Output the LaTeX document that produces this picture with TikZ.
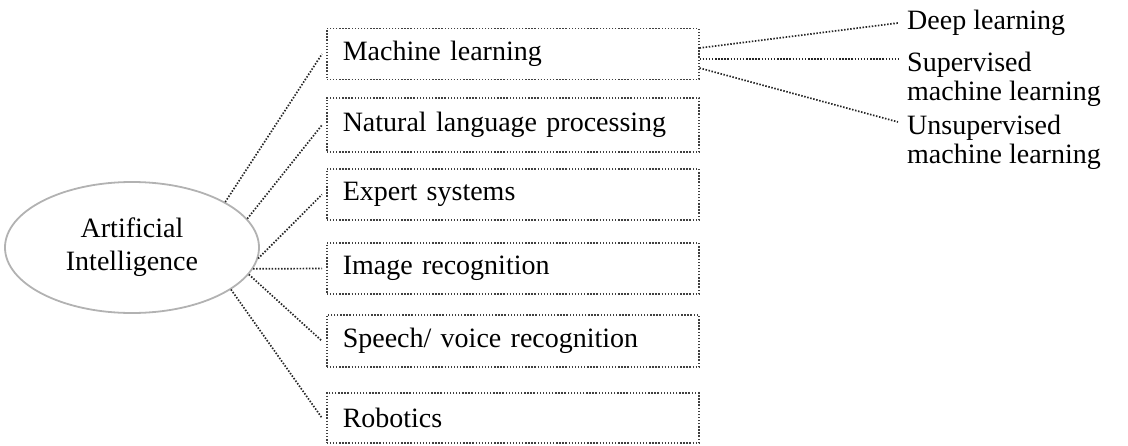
\documentclass[tikz,border=0pt]{standalone}
\usepackage{fontspec}
\setmainfont{Liberation Serif}
\usetikzlibrary{shapes.geometric,calc}
\begin{document}
\begin{tikzpicture}[x=1pt,y=-1pt,
  every node/.style={font=\fontsize{28}{33}\selectfont},
  dotline/.style={draw=black!85,line width=1.7pt,dash pattern=on 1.5pt off 1.6pt},
  topic/.style={draw=black!75,line width=1.5pt,dash pattern=on 1.4pt off 1.7pt,
    anchor=west,text width=340pt,align=left,inner xsep=16pt,inner ysep=0pt,
    minimum height=51pt},
  sub/.style={anchor=base west,align=left,inner sep=0pt,
    font=\fontsize{28}{28.5}\selectfont}]
\useasboundingbox (0,0) rectangle (1128,445);

% central concept
\node[ellipse,draw=black!30,line width=1.8pt,minimum width=254pt,minimum height=131pt,
  inner sep=0pt,align=center] (ai) at (132,247.5) {Artificial\\Intelligence};

% branches
\node[topic] (ml)  at (326,54)    {Machine learning};
\node[topic,minimum height=54pt] (nlp) at (326,125) {Natural language processing};
\node[topic] (es)  at (326,194.5) {Expert systems};
\node[topic] (ir)  at (326,268.5) {Image recognition};
\node[topic,minimum height=52pt] (sv)  at (326,341) {Speech/ voice recognition};
\node[topic,minimum height=50pt] (rb)  at (326,418) {Robotics};

% sub-fields of machine learning (base anchor sits on the last line)
\node[sub] (dl)  at (907,29)  {Deep learning};
\node[sub] (sup) at (907,100) {Supervised\\machine learning};
\node[sub] (uns) at (907,163) {Unsupervised\\machine learning};

% connectors
\draw[dotline] (ai.26)  -- ([xshift=-4pt]ml.west);
\draw[dotline] (ai.14)  -- ([xshift=-4pt]nlp.west);
\draw[dotline] (ai.-5)  -- ([xshift=-4pt]es.west);
\draw[dotline] (ai.-10) -- ([xshift=-4pt]ir.west);
\draw[dotline] (ai.-13) -- ([xshift=-4pt]sv.west);
\draw[dotline] (ai.-23) -- ([xshift=-4pt]rb.west);

\draw[dotline] ($(ml.east)+(0,-6)$) -- ($(dl.base west)+(-9,-6)$);
\draw[dotline] ($(ml.east)+(0,5)$)  -- ($(sup.base west)+(-9,-41)$);
\draw[dotline] ($(ml.east)+(0,14)$) -- ($(uns.base west)+(-9,-41)$);
\end{tikzpicture}
\end{document}
